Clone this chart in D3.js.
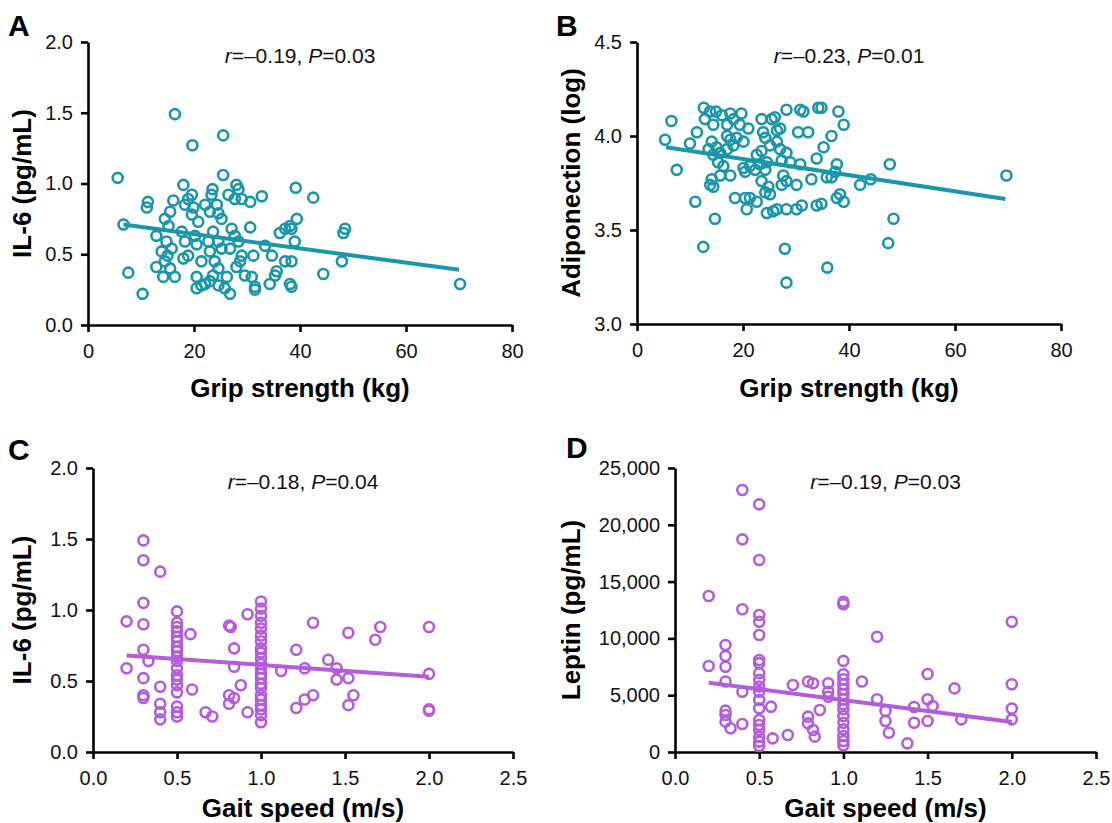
<!DOCTYPE html>
<html>
<head>
<meta charset="utf-8">
<script src="https://cdn.jsdelivr.net/npm/d3@7"></script>
<style>
body { margin: 0; background: #fff; }
svg { font-family: "Liberation Sans", Arial, sans-serif; }
.axis path, .axis line { stroke: #000; stroke-width: 2.6; }
.axis text { font-size: 20px; fill: #111; font-family: "Liberation Sans", Arial, sans-serif; }
</style>
</head>
<body>
<div class="chart"></div>
<script>
// values: [x, y]
const gripIl6 = [
	[16.4,1.49],[25.5,1.34],[19.7,1.27],[5.6,1.04],[25.5,1.06],[18.0,0.99],[28.0,0.99],[28.4,0.96],[39.2,0.97],[23.5,0.96],
	[32.8,0.91],[30.6,0.87],[11.3,0.87],[11.1,0.83],[16.1,0.88],[19.6,0.92],[18.9,0.89],[26.5,0.92],[6.7,0.71],[7.6,0.37],[10.3,0.22],
	[12.9,0.63],[12.9,0.41],[14.2,0.34],[13.9,0.52],[14.5,0.45],[14.8,0.59],[15.2,0.70],[14.5,0.75],[15.5,0.80],[15.0,0.49],
	[15.5,0.40],[16.4,0.34],[15.8,0.54],[18.3,0.85],[19.9,0.83],[17.7,0.66],[18.3,0.59],[18.9,0.49],[18.0,0.47],[20.2,0.63],
	[20.5,0.57],[19.6,0.78],[20.8,0.73],[20.5,0.34],[20.5,0.26],[21.4,0.28],[21.4,0.45],[23.3,0.92],[22.1,0.85],[23.0,0.80],
	[24.3,0.85],[24.6,0.79],[25.2,0.75],[23.6,0.66],[22.7,0.59],[24.6,0.59],[25.2,0.54],[23.0,0.52],[23.9,0.45],[23.6,0.35],
	[24.6,0.40],[24.6,0.28],[25.8,0.26],[26.8,0.22],[22.1,0.29],[23.0,0.31],[27.7,0.89],[29.0,0.89],[27.1,0.68],[27.7,0.63],
	[28.4,0.59],[26.8,0.54],[29.0,0.49],[28.7,0.45],[28.0,0.41],[29.6,0.35],[30.9,0.34],[31.2,0.49],[30.6,0.69],[31.5,0.27],
	[31.5,0.25],[26.2,0.34],[34.7,0.49],[33.4,0.56],[35.6,0.38],[35.3,0.35],[34.3,0.29],[36.2,0.65],[37.2,0.68],[38.1,0.70],
	[39.4,0.75],[38.1,0.29],[38.4,0.27],[37.2,0.45],[38.4,0.45],[39.0,0.59],[42.5,0.90],[38.4,0.68],[48.5,0.68],[48.2,0.65],
	[47.9,0.45],[44.4,0.36],[70.2,0.29]
];
const gripAdipo = [
	[12.6,4.15],[13.8,4.13],[14.9,4.13],[16.0,4.11],[17.6,4.12],[19.7,4.12],[18.2,4.09],[12.8,4.09],[14.4,4.06],[17.0,4.06],
	[19.4,4.06],[21.0,4.04],[23.5,4.09],[25.4,4.09],[26.0,4.10],[28.2,4.14],[31.4,4.13],[30.8,4.14],[34.2,4.15],[34.8,4.15],
	[38.0,4.13],[39.0,4.06],[6.5,4.08],[27.0,4.04],[26.4,4.03],[30.4,4.02],[32.3,4.02],[36.7,4.00],[35.2,3.94],[33.9,3.88],
	[37.7,3.85],[37.4,3.81],[42.1,3.74],[5.3,3.98],[10.0,3.96],[11.3,4.02],[7.5,3.82],[11.0,3.65],[14.7,3.56],[12.5,3.41],
	[14.1,3.97],[15.0,3.94],[17.0,4.00],[17.6,3.98],[18.2,3.95],[18.8,3.99],[20.1,3.97],[17.0,3.93],[15.7,3.91],[13.5,3.93],
	[14.4,3.90],[15.3,3.86],[16.3,3.84],[17.6,3.79],[15.7,3.79],[14.1,3.77],[13.8,3.74],[14.4,3.73],[20.1,3.83],[20.4,3.81],
	[21.3,3.84],[22.6,3.90],[23.5,3.92],[24.2,3.99],[23.8,4.02],[25.1,3.95],[26.4,3.97],[27.0,3.93],[28.2,3.91],[27.3,3.87],
	[28.9,3.86],[24.5,3.86],[23.2,3.85],[22.3,3.82],[24.2,3.82],[23.5,3.76],[24.8,3.73],[24.2,3.70],[25.1,3.69],[27.6,3.79],
	[28.2,3.76],[27.3,3.74],[30.1,3.74],[30.8,3.85],[32.9,3.77],[35.8,3.78],[36.7,3.78],[38.3,3.69],[39.0,3.65],[37.7,3.67],
	[34.8,3.64],[33.9,3.63],[31.1,3.63],[30.1,3.61],[28.2,3.61],[26.4,3.61],[25.7,3.60],[24.5,3.59],[22.6,3.65],[21.3,3.67],
	[20.4,3.67],[18.5,3.67],[20.7,3.61],[27.9,3.40],[35.9,3.30],[28.2,3.22],[44.1,3.77],[47.7,3.85],[48.4,3.56],[47.4,3.43],
	[69.7,3.79]
];
const gaitIl6 = [
	[0.20,0.92],[0.20,0.59],[0.30,1.49],[0.30,1.35],[0.30,1.05],[0.30,0.90],[0.30,0.72],[0.33,0.64],[0.30,0.52],[0.30,0.40],
	[0.30,0.38],[0.40,1.27],[0.40,0.46],[0.40,0.34],[0.40,0.28],[0.40,0.23],
	[0.50,0.99],[0.50,0.91],[0.50,0.88],[0.50,0.85],[0.50,0.81],[0.50,0.78],[0.50,0.74],[0.50,0.71],[0.50,0.67],[0.50,0.64],
	[0.50,0.59],[0.50,0.54],[0.50,0.51],[0.50,0.47],[0.50,0.42],[0.50,0.32],[0.50,0.28],[0.50,0.25],
	[0.58,0.83],[0.59,0.44],[0.67,0.28],[0.71,0.25],[0.81,0.89],[0.82,0.88],[0.84,0.73],[0.84,0.60],[0.88,0.47],[0.81,0.40],
	[0.84,0.38],[0.81,0.34],[0.92,0.97],[0.92,0.28],
	[1.0,1.06],[1.0,1.01],[1.0,0.96],[1.0,0.91],[1.0,0.87],[1.0,0.82],[1.0,0.78],[1.0,0.73],[1.0,0.70],[1.0,0.66],[1.0,0.62],
	[1.0,0.59],[1.0,0.55],[1.0,0.52],[1.0,0.48],[1.0,0.45],[1.0,0.40],[1.0,0.37],[1.0,0.33],[1.0,0.30],[1.0,0.26],[1.0,0.21],
	[1.12,0.57],[1.21,0.72],[1.26,0.59],[1.21,0.31],[1.26,0.37],[1.31,0.91],[1.52,0.84],[1.71,0.88],[1.68,0.79],[2.0,0.88],
	[1.40,0.65],[1.45,0.59],[1.45,0.51],[1.52,0.52],[2.0,0.55],[1.31,0.40],[1.52,0.33],[1.55,0.40],[2.0,0.30],[2.0,0.29]
];
const gaitLeptin = [
	[0.2,13730],[0.2,7570],[0.3,9420],[0.3,8450],[0.3,7510],[0.3,6200],[0.3,3640],[0.3,3260],[0.3,2670],[0.33,2090],
	[0.4,23060],[0.4,18720],[0.4,12560],[0.4,5310],[0.4,2460],
	[0.5,21800],[0.5,16900],[0.5,12060],[0.5,11470],[0.5,10300],[0.5,8100],[0.5,7820],[0.5,6940],[0.5,6350],[0.5,5760],
	[0.5,5310],[0.5,4580],[0.5,3850],[0.5,2820],[0.5,2380],[0.5,1940],[0.5,1350],[0.5,910],[0.5,530],
	[0.57,3990],[0.58,1200],[0.67,1490],[0.70,5900],[0.79,6200],[0.82,6050],[0.79,3110],[0.79,2520],[0.82,1940],[0.83,1350],
	[0.86,3700],[0.91,6050],[0.91,5310],[0.91,4870],[1.11,6200],
	[1.0,13230],[1.0,13000],[1.0,8020],[1.0,6850],[1.0,6410],[1.0,5970],[1.0,5520],[1.0,5080],[1.0,4640],[1.0,4200],
	[1.0,3760],[1.0,3170],[1.0,2580],[1.0,1990],[1.0,1410],[1.0,970],[1.0,590],
	[1.2,10150],[1.2,4640],[1.25,3620],[1.25,2730],[1.27,1700],[1.38,760],[1.5,6860],[1.5,4640],[1.53,4050],[1.5,2730],
	[1.42,2580],[1.42,3960],[1.66,5600],[1.70,2870],[2.0,11470],[2.0,5970],[2.0,3830],[2.0,2870]
];

// fitted lines, start and end
const gripIl6Fit = [[6.7,0.71],[70,0.39]];
const gripAdipoFit = [[5.5,3.94],[69.5,3.665]];
const gaitIl6Fit = [[0.2,0.68],[2.0,0.53]];
const gaitLeptinFit = [[0.2,6100],[2.0,2650]];

const gripTicks = [0, 20, 40, 60, 80];
const gaitTicks = [0, 0.5, 1.0, 1.5, 2.0, 2.5];
const il6Ticks = [0, 0.5, 1.0, 1.5, 2.0];
const adipoTicks = [3.0, 3.5, 4.0, 4.5];
const leptinTicks = [0, 5000, 10000, 15000, 20000, 25000];

const letters = ["A", "B", "C", "D"];
const rValues = ["\u20130.19", "\u20130.23", "\u20130.18", "\u20130.19"];
const pValues = ["0.03", "0.01", "0.04", "0.03"];

const teal = "#1a96aa",
	purple = "#b45ddb";

var svg = d3.select(".chart").append("svg").attr("width", 1112).attr("height", 823);

var panels = [
	{ pts: gripIl6, fit: gripIl6Fit, xd: [0, 80], yd: [0, 2], xt: gripTicks, yt: il6Ticks, xf: d3.format("d"), yf: d3.format(".1f"),
		xTitle: "Grip strength (kg)", yTitle: "IL-6 (pg/mL)", color: teal, left: 88, top: 42, width: 424, height: 283, lx: 8, ly: 36, tx: 22, xtOff: 72 },
	{ pts: gripAdipo, fit: gripAdipoFit, xd: [0, 80], yd: [3, 4.5], xt: gripTicks, yt: adipoTicks, xf: d3.format("d"), yf: d3.format(".1f"),
		xTitle: "Grip strength (kg)", yTitle: "Adiponection (log)", color: teal, left: 637, top: 42, width: 424, height: 282, lx: 556, ly: 36, tx: 571, xtOff: 73 },
	{ pts: gaitIl6, fit: gaitIl6Fit, xd: [0, 2.5], yd: [0, 2], xt: gaitTicks, yt: il6Ticks, xf: d3.format(".1f"), yf: d3.format(".1f"),
		xTitle: "Gait speed (m/s)", yTitle: "IL-6 (pg/mL)", color: purple, left: 93, top: 468, width: 420, height: 284, lx: 8, ly: 460, tx: 22, xtOff: 65 },
	{ pts: gaitLeptin, fit: gaitLeptinFit, xd: [0, 2.5], yd: [0, 25000], xt: gaitTicks, yt: leptinTicks, xf: d3.format(".1f"), yf: d3.format(","),
		xTitle: "Gait speed (m/s)", yTitle: "Leptin (pg/mL)", color: purple, left: 675, top: 468, width: 421, height: 284, lx: 566, ly: 458, tx: 571, xtOff: 65 }
];

panels.forEach(function (p, i) {
	const xScale = d3.scaleLinear().domain(p.xd).range([p.left, p.left + p.width]);
	const yScale = d3.scaleLinear().domain(p.yd).range([p.top + p.height, p.top]);
	const bottom = p.top + p.height;

	svg
		.append("g")
		.attr("class", "axis")
		.attr("transform", "translate(0," + bottom + ")")
		.call(d3.axisBottom(xScale).tickValues(p.xt).tickFormat(p.xf).tickSize(7).tickSizeOuter(0).tickPadding(12));

	svg
		.append("g")
		.attr("class", "axis")
		.attr("transform", "translate(" + p.left + ",0)")
		.call(d3.axisLeft(yScale).tickValues(p.yt).tickFormat(p.yf).tickSize(7).tickSizeOuter(0).tickPadding(8));

	svg
		.selectAll(".dot" + i)
		.data(p.pts)
		.enter()
		.append("circle")
		.attr("class", "dot" + i)
		.attr("cx", (d) => xScale(d[0]))
		.attr("cy", (d) => yScale(d[1]))
		.attr("r", 5)
		.attr("fill", "none")
		.attr("stroke", p.color)
		.attr("stroke-width", 2.6);

	const line = d3.line().x((d) => xScale(d[0])).y((d) => yScale(d[1]));
	svg
		.append("path")
		.datum(p.fit)
		.attr("d", line)
		.attr("fill", "none")
		.attr("stroke", p.color)
		.attr("stroke-width", 4);

	// r / P note
	const note = svg
		.append("text")
		.attr("x", p.left + p.width / 2)
		.attr("y", p.top + 21)
		.attr("text-anchor", "middle")
		.style("font-size", "21px")
		.style("fill", "#111");
	note.append("tspan").style("font-style", "italic").text("r");
	note.append("tspan").text("=" + rValues[i] + ", ");
	note.append("tspan").style("font-style", "italic").text("P");
	note.append("tspan").text("=" + pValues[i]);

	svg
		.append("text")
		.attr("x", p.left + p.width / 2)
		.attr("y", bottom + p.xtOff)
		.attr("text-anchor", "middle")
		.style("font-size", "26px")
		.style("font-weight", "bold")
		.text(p.xTitle);

	svg
		.append("text")
		.attr("transform", "translate(" + p.tx + "," + (p.top + p.height / 2) + ") rotate(-90)")
		.attr("dy", "0.35em")
		.attr("text-anchor", "middle")
		.style("font-size", "26px")
		.style("font-weight", "bold")
		.text(p.yTitle);

	svg
		.append("text")
		.attr("x", p.lx)
		.attr("y", p.ly)
		.style("font-size", "30px")
		.style("font-weight", "bold")
		.text(letters[i]);
});
</script>
</body>
</html>
